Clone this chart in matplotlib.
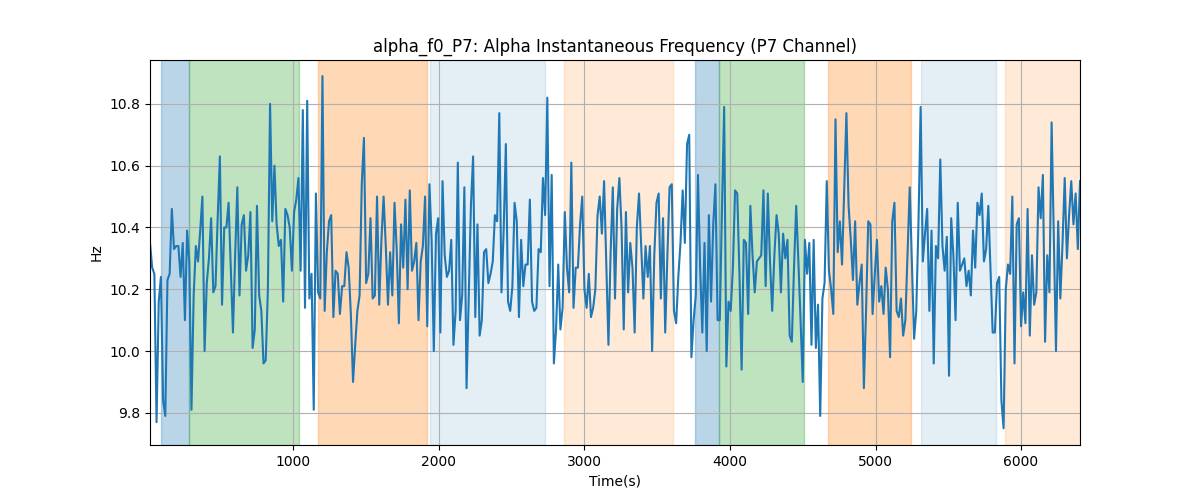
import matplotlib
matplotlib.use("Agg")
import matplotlib.pyplot as plt
import numpy as np

# sampling: one value every 15 s
dt = 15

freq = [
    10.35, 10.27, 10.25, 9.77, 10.16, 10.24, 9.84, 9.79, 10.23, 10.25,
    10.46, 10.33, 10.34, 10.34, 10.24, 10.35, 10.10, 10.39, 10.29, 9.81,
    10.18, 10.34, 10.29, 10.39, 10.50, 10.00, 10.22, 10.30, 10.43, 10.19,
    10.21, 10.43, 10.63, 10.15, 10.40, 10.40, 10.48, 10.27, 10.06, 10.31,
    10.53, 10.18, 10.41, 10.44, 10.26, 10.31, 10.45, 10.01, 10.07, 10.47,
    10.18, 10.13, 9.96, 9.97, 10.20, 10.80, 10.42, 10.60, 10.41, 10.34,
    10.36, 10.16, 10.46, 10.44, 10.40, 10.26, 10.45, 10.49, 10.56, 10.26,
    # 300-440 px
    10.78, 10.14, 10.81, 10.17, 10.25, 9.81, 10.51, 10.19, 10.17, 10.89,
    10.13, 10.32, 10.42, 10.44, 10.11, 10.26, 10.25, 10.12, 10.21, 10.21,
    10.32, 10.27, 10.12, 9.90, 10.02, 10.13, 10.18, 10.54, 10.69, 10.22,
    10.25, 10.43, 10.17, 10.18, 10.50, 10.15, 10.36, 10.50, 10.34, 10.15,
    10.32, 10.18, 10.48, 10.33, 10.09, 10.41, 10.27, 10.49, 10.20, 10.52,
    10.26, 10.29, 10.35, 10.10, 10.29, 10.34, 10.50, 10.08, 10.54, 10.36,
    10.00, 10.38, 10.43, 10.06,
    # 440-600 px
    10.55, 10.31, 10.24, 10.26, 10.36, 10.02, 10.13, 10.61, 10.10, 10.18,
    10.53, 9.88, 10.18, 10.47, 10.63, 10.11, 10.41, 10.05, 10.10, 10.32,
    10.33, 10.22, 10.25, 10.29, 10.44, 10.42, 10.77, 10.19, 10.39, 10.67,
    10.16, 10.13, 10.21, 10.48, 10.42, 10.11, 10.36, 10.21, 10.28, 10.28,
    10.49, 10.16, 10.13, 10.14, 10.33, 10.32, 10.56, 10.44, 10.82, 10.21,
    10.57, 9.96, 10.07, 10.28, 10.07, 10.14, 10.45, 10.27, 10.19, 10.61,
    10.14, 10.27, 10.27, 10.41, 10.50, 10.20, 10.14, 10.25, 10.11, 10.14,
    10.20, 10.44, 10.50,
    # 600-740 px
    10.38, 10.55, 10.29, 10.02, 10.32, 10.53, 10.17, 10.46, 10.56, 10.40,
    10.07, 10.45, 10.19, 10.35, 10.27, 10.06, 10.40, 10.51, 10.34, 10.17,
    10.34, 10.24, 10.34, 10.00, 10.31, 10.48, 10.51, 10.17, 10.43, 10.06,
    10.31, 10.53, 10.54, 10.13, 10.09, 10.24, 10.35, 10.52, 10.35, 10.67,
    10.70, 9.98, 10.10, 10.18, 10.57, 10.27, 10.06, 10.35, 10.00, 10.44,
    10.16, 10.41, 10.54, 10.10, 10.10, 10.46, 10.79, 9.95, 10.16, 10.13,
    10.27, 10.52, 10.51, 10.25, 9.94,
    # 740-890 px
    10.36, 10.35, 10.12, 10.47, 10.31, 10.19, 10.29, 10.30, 10.31, 10.52,
    10.21, 10.51, 10.29, 10.13, 10.31, 10.44, 10.38, 10.19, 10.38, 10.30,
    10.36, 10.05, 10.03, 10.27, 10.47, 10.29, 10.10, 9.90, 10.36, 10.25,
    10.35, 10.02, 10.36, 10.01, 10.15, 9.79, 10.17, 10.22, 10.55, 10.26,
    10.20, 10.12, 10.75, 10.32, 10.42, 10.28, 10.53, 10.77, 10.47, 10.36,
    10.23, 10.42, 10.15, 10.22, 10.28, 9.88, 10.13, 10.42, 10.41, 10.12,
    10.25, 10.36, 10.16, 10.21, 10.12, 10.27, 10.20, 9.98,
    # 890-1080 px
    10.42, 10.48, 10.13, 10.11, 10.17, 10.05, 10.10, 10.31, 10.53, 10.29,
    10.04, 10.13, 10.41, 10.79, 10.29, 10.38, 10.46, 10.13, 10.39, 9.96,
    10.34, 10.30, 10.62, 10.34, 10.26, 10.37, 9.92, 10.43, 10.31, 10.10,
    10.48, 10.26, 10.28, 10.30, 10.21, 10.26, 10.18, 10.39, 10.27, 10.48,
    10.44, 10.51, 10.29, 10.33, 10.47, 10.27, 10.06, 10.06, 10.22, 10.24,
    9.84, 9.75, 10.20, 10.28, 10.25, 10.50, 9.96, 10.41, 10.43, 10.08,
    10.19, 10.09, 10.46, 10.05, 10.31, 10.15, 10.19, 10.53, 10.43, 10.57,
    10.03, 10.31, 10.19, 10.74, 10.37, 10.00, 10.42, 10.17, 10.35, 10.56,
    10.30, 10.44, 10.55, 10.41, 10.51, 10.33, 10.55,
]

# shaded segments: (start, end, colour, alpha)
span_start = [89, 281, 1168, 1937, 2858, 3759, 3924, 4673, 5312, 5889]
span_end = [281, 1037, 1917, 2728, 3607, 3924, 4508, 5243, 5827, 6405]
span_color = ['tab:blue', 'tab:green', 'tab:orange', 'tab:blue', 'tab:orange',
              'tab:blue', 'tab:green', 'tab:orange', 'tab:blue', 'tab:orange']
span_alpha = [0.3, 0.3, 0.3, 0.12, 0.16, 0.3, 0.3, 0.3, 0.12, 0.16]

t = dt * np.arange(1, len(freq) + 1)

fig, ax = plt.subplots(figsize=(12, 5), dpi=100)
for s, e, c, a in zip(span_start, span_end, span_color, span_alpha):
    ax.axvspan(s, e, color=c, alpha=a)
ax.plot(t, freq, color='tab:blue')
ax.set_xlim(t[0], t[-1])
ax.set_ylim(9.696, 10.942)
ax.grid(True)
ax.set_xlabel('Time(s)')
ax.set_ylabel('Hz')
ax.set_title('alpha_f0_P7: Alpha Instantaneous Frequency (P7 Channel)')

plt.savefig('out.png')
